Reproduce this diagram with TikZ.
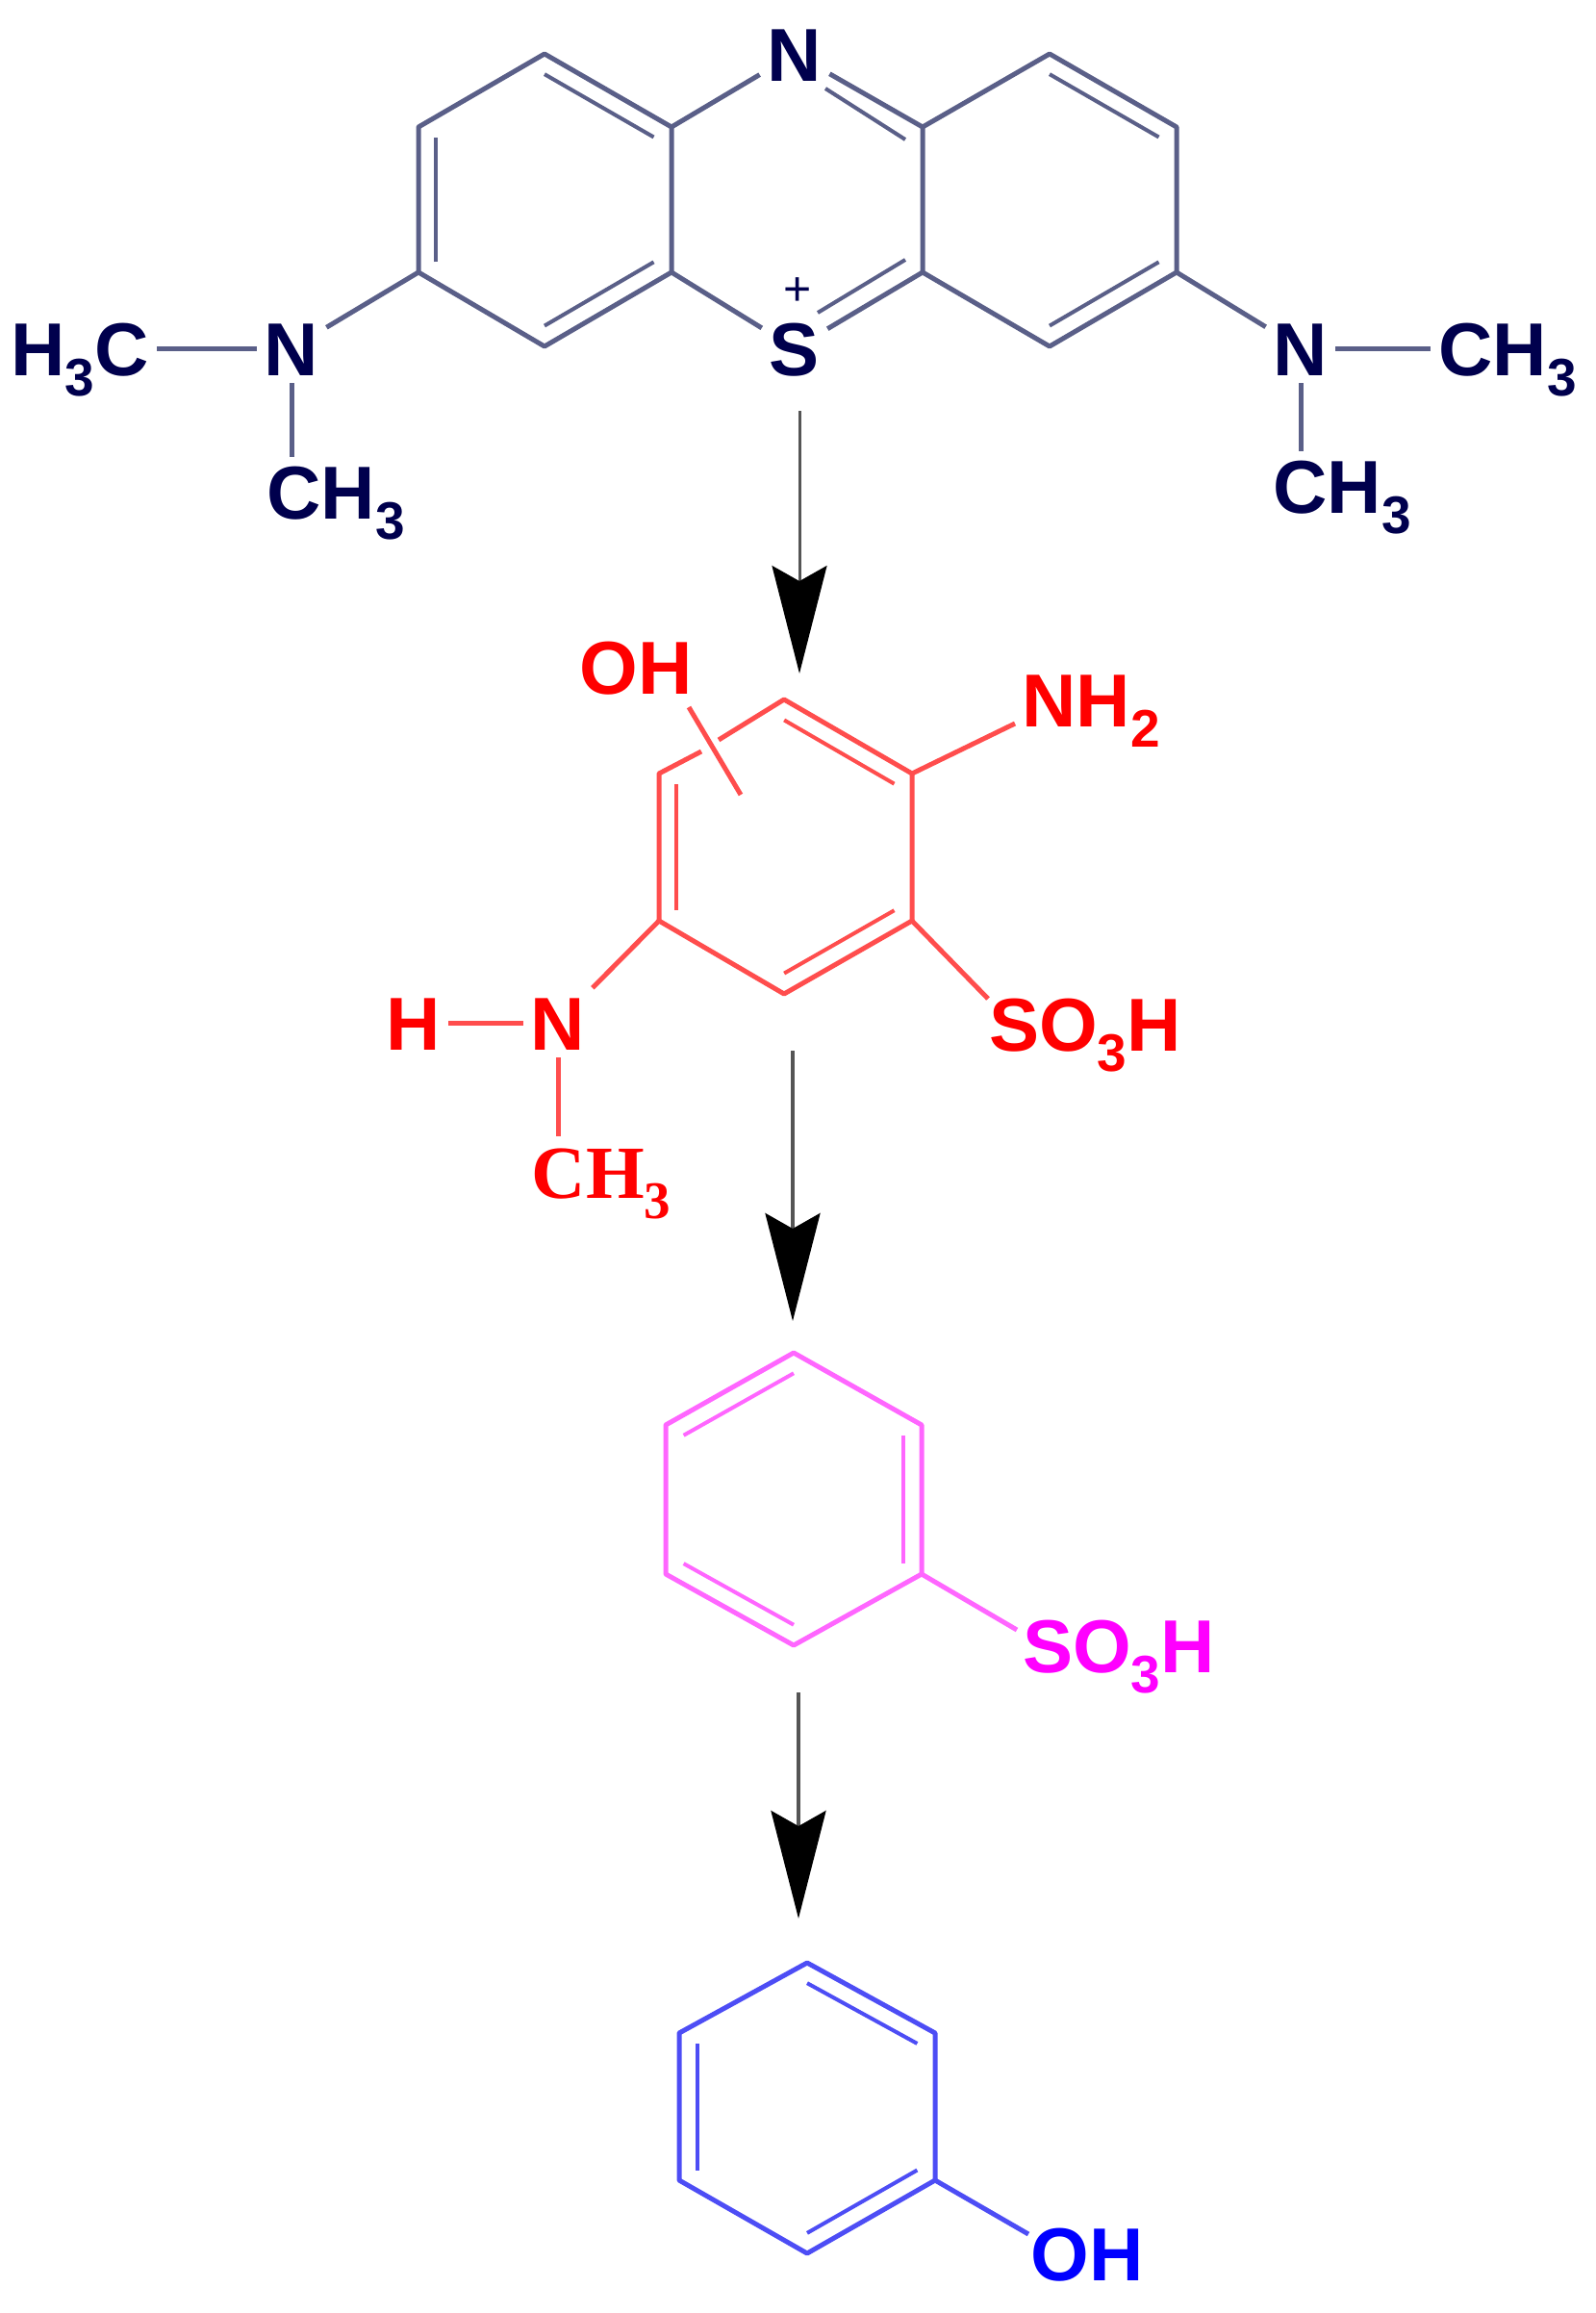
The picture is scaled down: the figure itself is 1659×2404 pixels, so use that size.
\documentclass[tikz,border=0pt]{standalone}
\usepackage{fontspec}
\setmainfont{Liberation Sans}
\newfontfamily\serifatom{Liberation Serif}
\usetikzlibrary{arrows.meta,calc}
\definecolor{navytext}{HTML}{00004D}
\definecolor{navybond}{HTML}{5A5F88}
\definecolor{redbond}{HTML}{FF4D4D}
\definecolor{pinkbond}{HTML}{FF66FF}
\definecolor{pinktext}{HTML}{FF00FF}
\definecolor{bluebond}{HTML}{4D4DF5}
\definecolor{arline}{HTML}{555555}
\newcommand{\subnum}[1]{\raisebox{-.27em}{\fontsize{55}{60}\selectfont #1}}
% inner line of a double bond, pulled towards the ring centre
\newcommand{\inbond}[3]{\draw[thin bond] ($(#1)!.14!(#3)$) -- ($(#2)!.14!(#3)$);}
\begin{document}
\begin{tikzpicture}[
        x=1pt, y=-1pt,
        every node/.style={font=\fontsize{78}{90}\selectfont\bfseries, text height=56pt, text depth=0pt, inner sep=8pt},
        bond/.style={line width=5pt, line join=round},
        thin bond/.style={line width=4pt},
        ar/.style={arline, line width=4pt, -{Stealth[length=112pt, width=57pt, inset=16pt, color=black, fill=black]}},
    ]
    \useasboundingbox (0,0) rectangle (1659,2404);

    % methylene blue
    \begin{scope}[navybond, every node/.append style={text=navytext}]
    \coordinate (l1) at (566,56);
    \coordinate (l2) at (698,132);
    \coordinate (l3) at (698,283);
    \coordinate (l4) at (566,360);
    \coordinate (l5) at (435,283);
    \coordinate (l6) at (435,132);
    \coordinate (lc) at (566,207);
    \coordinate (r1) at (1091,56);
    \coordinate (r2) at (1223,132);
    \coordinate (r3) at (1223,283);
    \coordinate (r4) at (1091,360);
    \coordinate (r5) at (959,283);
    \coordinate (r6) at (959,132);
    \coordinate (rc) at (1091,207);
    \coordinate (nin) at (858,92);
    \coordinate (nin2) at (941,145);
    \coordinate (sin) at (850,325);
    \coordinate (sin2) at (941,270);

    \node (ntop) at (826,56) {N};
    \node (stop) at (826,362) {S};
    \node[font=\fontsize{50}{50}\selectfont, text height=34pt, inner sep=0pt] (plus) at (829,300) {+};
    \node (nl) at (303,362) {N};
    \node (nr) at (1352,362) {N};
    \node (hc) at (83,362) {H\subnum{3}C};
    \node (chl) at (349,511) {CH\subnum{3}};
    \node (chr) at (1567,362) {CH\subnum{3}};
    \node (chb) at (1395,505) {CH\subnum{3}};

    \draw[bond] (l1) -- (l2) -- (l3) -- (l4) -- (l5) -- (l6) -- cycle;
    \draw[bond] (r1) -- (r2) -- (r3) -- (r4) -- (r5) -- (r6) -- cycle;
    \inbond{l1}{l2}{lc}
    \inbond{l3}{l4}{lc}
    \inbond{l5}{l6}{lc}
    \inbond{r1}{r2}{rc}
    \inbond{r3}{r4}{rc}
    \draw[thin bond] (nin) -- (nin2);
    \draw[thin bond] (sin) -- (sin2);

    \path[bond]
    (ntop) edge (l2) edge (r6)
    (stop) edge (l3) edge (r5)
    (nl) edge (l5) edge (hc) edge (nl |- chl.north)
    (nr) edge (r3) edge (chr) edge (nr |- chb.north)
    ;
    \end{scope}

    % first product
    \begin{scope}[redbond, every node/.append style={text=red}]
    \coordinate (a1) at (815,727);
    \coordinate (a2) at (948,804);
    \coordinate (a3) at (948,957);
    \coordinate (a4) at (815,1033);
    \coordinate (a5) at (685,957);
    \coordinate (a6) at (685,804);
    \coordinate (ac) at (816,880);
    \coordinate (gap1) at (729,781);
    \coordinate (gap2) at (747,769);
    \coordinate (ohs) at (716,735);
    \coordinate (ohe) at (770,826);
    \coordinate (nhe) at (1055,752);
    \coordinate (soe) at (1027,1038);

    \node (oh) at (661,693) {OH};
    \node (nh) at (1134,727) {NH\subnum{2}};
    \node (so) at (1128,1064) {SO\subnum{3}H};
    \node (hh) at (430,1063) {H};
    \node (na) at (580,1063) {N};
    \node[font=\fontsize{78}{90}\selectfont\bfseries\serifatom] (cha) at (625,1217) {CH\subnum{3}};

    \draw[bond] (gap2) -- (a1) -- (a2) -- (a3) -- (a4) -- (a5) -- (a6) -- (gap1);
    \inbond{a1}{a2}{ac}
    \inbond{a3}{a4}{ac}
    \inbond{a5}{a6}{ac}

    \path[bond]
    (ohs) edge (ohe)
    (a2) edge (nhe)
    (a3) edge (soe)
    (a5) edge (na)
    (na) edge (hh) edge (na |- cha.north)
    ;
    \end{scope}

    % second product
    \begin{scope}[pinkbond, every node/.append style={text=pinktext}]
    \coordinate (b1) at (825,1406);
    \coordinate (b2) at (958,1481);
    \coordinate (b3) at (958,1636);
    \coordinate (b4) at (825,1710);
    \coordinate (b5) at (692,1636);
    \coordinate (b6) at (692,1481);
    \coordinate (bc) at (825,1558);
    \coordinate (sbe) at (1057,1694);

    \node (sb) at (1163,1710) {SO\subnum{3}H};

    \draw[bond] (b1) -- (b2) -- (b3) -- (b4) -- (b5) -- (b6) -- cycle;
    \inbond{b6}{b1}{bc}
    \inbond{b2}{b3}{bc}
    \inbond{b4}{b5}{bc}
    \draw[bond] (b3) -- (sbe);
    \end{scope}

    % phenol
    \begin{scope}[bluebond, every node/.append style={text=blue}]
    \coordinate (c1) at (839,2040);
    \coordinate (c2) at (972,2113);
    \coordinate (c3) at (972,2266);
    \coordinate (c4) at (839,2342);
    \coordinate (c5) at (706,2266);
    \coordinate (c6) at (706,2113);
    \coordinate (cc) at (839,2191);
    \coordinate (ohb) at (1069,2322);

    \node (ob) at (1130,2342) {OH};

    \draw[bond] (c1) -- (c2) -- (c3) -- (c4) -- (c5) -- (c6) -- cycle;
    \inbond{c1}{c2}{cc}
    \inbond{c3}{c4}{cc}
    \inbond{c5}{c6}{cc}
    \draw[bond] (c3) -- (ohb);
    \end{scope}

    % arrows
    \coordinate (s1) at (831,427);
    \coordinate (t1) at (831,700);
    \coordinate (s2) at (824,1092);
    \coordinate (t2) at (824,1373);
    \coordinate (s3) at (830,1759);
    \coordinate (t3) at (830,1994);
    \draw[ar, line width=3pt] (s1) -- (t1);
    \draw[ar] (s2) -- (t2);
    \draw[ar] (s3) -- (t3);
    \end{tikzpicture}
\end{document}
